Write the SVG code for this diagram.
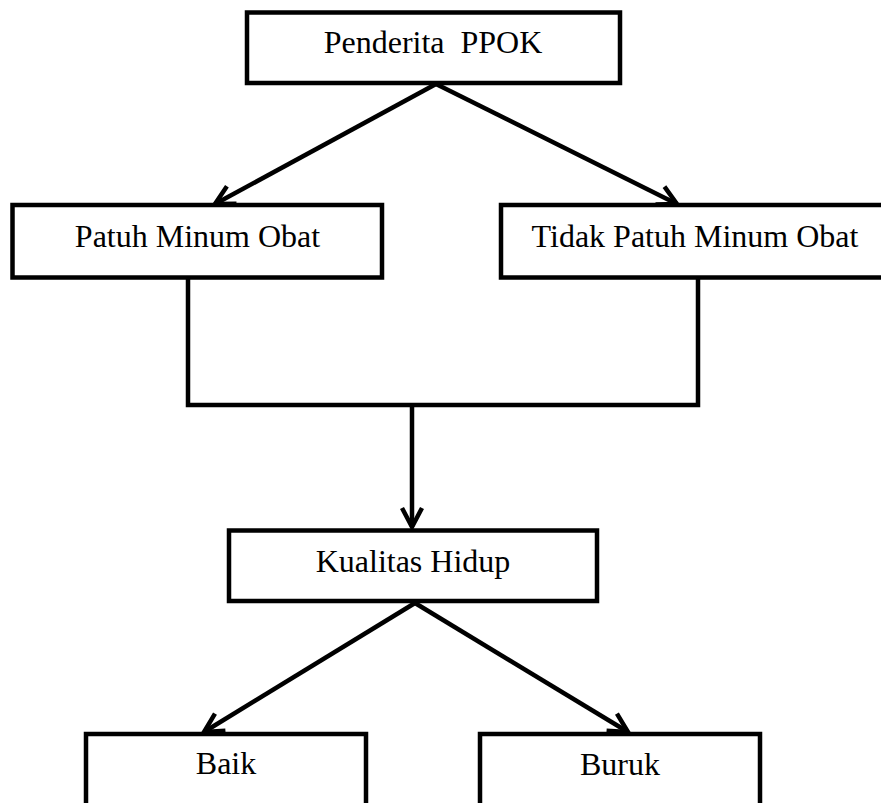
<svg xmlns="http://www.w3.org/2000/svg" width="881" height="803" viewBox="0 0 881 803">
<style>
.box{fill:#fff;stroke:#000;stroke-width:4.5}
.lbl{font-family:"Liberation Serif","Times New Roman",serif;font-size:32px;fill:#000;text-anchor:middle}
.ln{fill:none;stroke:#000;stroke-width:4.5}
</style>
<defs>
<marker id="arr" markerUnits="userSpaceOnUse" markerWidth="40" markerHeight="40" viewBox="-30 -20 40 40" refX="0" refY="0" orient="auto" overflow="visible">
<path d="M -19 -10 L 0 0 L -19 10" fill="none" stroke="#000" stroke-width="4.5" stroke-linejoin="miter"/>
</marker>
</defs>
<rect width="881" height="803" fill="#fff"/>
<g id="connectors">
<line class="ln" x1="436" y1="84" x2="215" y2="204" marker-end="url(#arr)"/>
<line class="ln" x1="436" y1="84" x2="677" y2="204" marker-end="url(#arr)"/>
<polyline class="ln" points="188,279 188,405 698,405 698,279"/>
<line class="ln" x1="412" y1="405" x2="412" y2="527" marker-end="url(#arr)"/>
<line class="ln" x1="415" y1="603" x2="204" y2="732" marker-end="url(#arr)"/>
<line class="ln" x1="415" y1="603" x2="628" y2="732" marker-end="url(#arr)"/>
</g>
<g id="node-ppok">
<rect class="box" x="247" y="12.5" width="373" height="70.5"/>
<text class="lbl" x="433" y="53" xml:space="preserve">Penderita  PPOK</text>
</g>
<g id="node-patuh">
<rect class="box" x="12.5" y="205" width="369.5" height="72.5"/>
<text class="lbl" x="197.5" y="247">Patuh Minum Obat</text>
</g>
<g id="node-tidak-patuh">
<rect class="box" x="501" y="205" width="390" height="72.5"/>
<text class="lbl" x="695" y="247">Tidak Patuh Minum Obat</text>
</g>
<g id="node-kualitas">
<rect class="box" x="229" y="530.5" width="368" height="70.5"/>
<text class="lbl" x="413" y="572">Kualitas Hidup</text>
</g>
<g id="node-baik">
<rect class="box" x="86" y="734" width="280" height="100"/>
<text class="lbl" x="226" y="774">Baik</text>
</g>
<g id="node-buruk">
<rect class="box" x="480" y="734" width="280" height="100"/>
<text class="lbl" x="620" y="775">Buruk</text>
</g>
</svg>
